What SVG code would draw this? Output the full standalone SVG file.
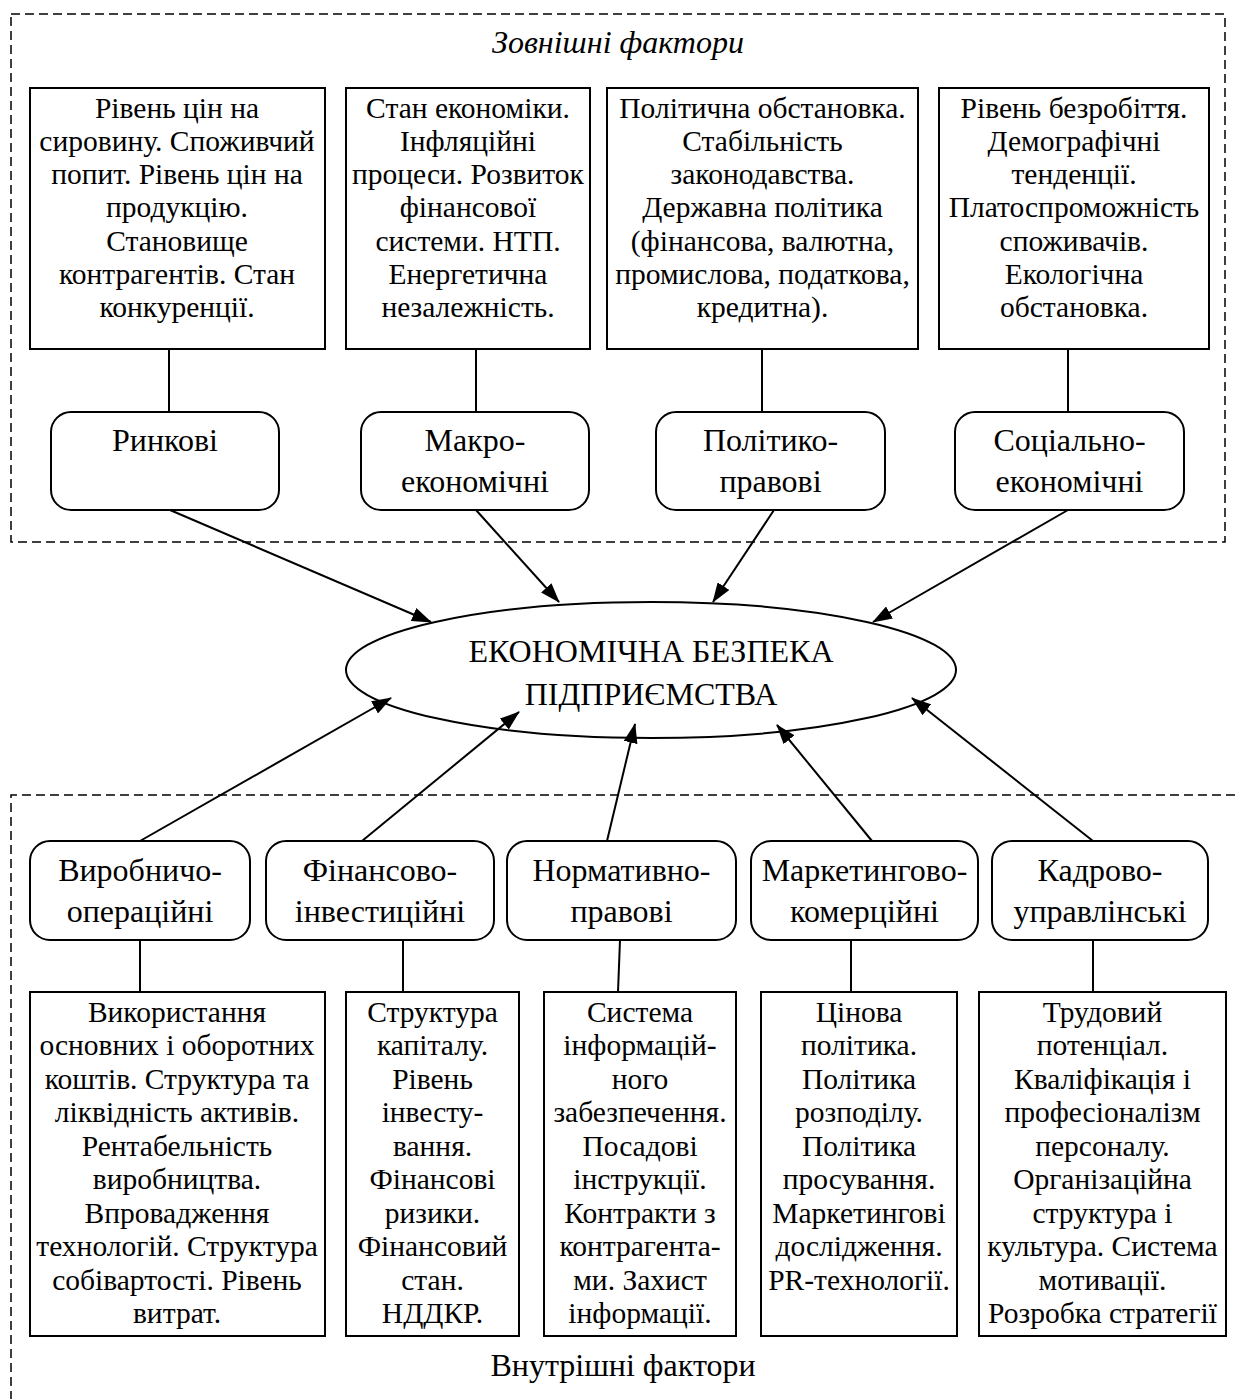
<svg xmlns="http://www.w3.org/2000/svg" width="1235" height="1399" viewBox="0 0 1235 1399">
<style>
text{font-family:"Liberation Serif","Times New Roman",serif;fill:#000;text-anchor:middle}
.body{font-size:29.5px}
.lbl{font-size:32px}
.ttl{font-size:32px}
.box{fill:#fff;stroke:#000;stroke-width:2}
.dash{fill:none;stroke:#000;stroke-width:1.5;stroke-dasharray:9 5}
.ln{stroke:#000;stroke-width:2;fill:none}
</style>
<defs>
<marker id="ah" markerUnits="userSpaceOnUse" markerWidth="20" markerHeight="14" refX="19" refY="7" orient="auto">
<path d="M0,0 L20,7 L0,14 z" fill="#000"/>
</marker>
</defs>
<rect width="1235" height="1399" fill="#fff"/>

<g id="external-frame">
<rect class="dash" x="11" y="14" width="1214" height="528"/>
<text class="ttl" x="618" y="53" font-style="italic">Зовнішні фактори</text>
</g>
<g id="internal-frame">
<path class="dash" d="M1235 795 H11 V1399"/>
<text class="ttl" x="623" y="1376">Внутрішні фактори</text>
</g>

<g id="box-market-details">
<rect class="box" x="30" y="88" width="295" height="261"/>
<text class="body"><tspan x="177" y="117.5">Рівень цін на</tspan><tspan x="177" dy="33.3">сировину. Споживчий</tspan><tspan x="177" dy="33.3">попит. Рівень цін на</tspan><tspan x="177" dy="33.3">продукцію.</tspan><tspan x="177" dy="33.3">Становище</tspan><tspan x="177" dy="33.3">контрагентів. Стан</tspan><tspan x="177" dy="33.3">конкуренції.</tspan></text>
</g>
<g id="box-macro-details">
<rect class="box" x="346" y="88" width="244" height="261"/>
<text class="body"><tspan x="468" y="117.5">Стан економіки.</tspan><tspan x="468" dy="33.3">Інфляційні</tspan><tspan x="468" dy="33.3">процеси. Розвиток</tspan><tspan x="468" dy="33.3">фінансової</tspan><tspan x="468" dy="33.3">системи. НТП.</tspan><tspan x="468" dy="33.3">Енергетична</tspan><tspan x="468" dy="33.3">незалежність.</tspan></text>
</g>
<g id="box-political-details">
<rect class="box" x="607" y="88" width="311" height="261"/>
<text class="body"><tspan x="762.5" y="117.5">Політична обстановка.</tspan><tspan x="762.5" dy="33.3">Стабільність</tspan><tspan x="762.5" dy="33.3">законодавства.</tspan><tspan x="762.5" dy="33.3">Державна політика</tspan><tspan x="762.5" dy="33.3">(фінансова, валютна,</tspan><tspan x="762.5" dy="33.3">промислова, податкова,</tspan><tspan x="762.5" dy="33.3">кредитна).</tspan></text>
</g>
<g id="box-social-details">
<rect class="box" x="939" y="88" width="270" height="261"/>
<text class="body"><tspan x="1074" y="117.5">Рівень безробіття.</tspan><tspan x="1074" dy="33.3">Демографічні</tspan><tspan x="1074" dy="33.3">тенденції.</tspan><tspan x="1074" dy="33.3">Платоспроможність</tspan><tspan x="1074" dy="33.3">споживачів.</tspan><tspan x="1074" dy="33.3">Екологічна</tspan><tspan x="1074" dy="33.3">обстановка.</tspan></text>
</g>

<g id="node-market">
<rect class="box" x="51" y="412" width="228" height="98" rx="20"/>
<text class="lbl" x="165" y="451">Ринкові</text>
</g>
<g id="node-macro">
<rect class="box" x="361" y="412" width="228" height="98" rx="20"/>
<text class="lbl"><tspan x="475" y="451">Макро-</tspan><tspan x="475" y="492">економічні</tspan></text>
</g>
<g id="node-political">
<rect class="box" x="656" y="412" width="229" height="98" rx="20"/>
<text class="lbl"><tspan x="770.5" y="451">Політико-</tspan><tspan x="770.5" y="492">правові</tspan></text>
</g>
<g id="node-social">
<rect class="box" x="955" y="412" width="229" height="98" rx="20"/>
<text class="lbl"><tspan x="1069.5" y="451">Соціально-</tspan><tspan x="1069.5" y="492">економічні</tspan></text>
</g>

<g id="node-center">
<ellipse cx="651" cy="670" rx="305" ry="68" fill="#fff" stroke="#000" stroke-width="2"/>
<text class="lbl"><tspan x="651" y="662">ЕКОНОМІЧНА БЕЗПЕКА</tspan><tspan x="651" y="705">ПІДПРИЄМСТВА</tspan></text>
</g>

<g id="node-production">
<rect class="box" x="30" y="841" width="220" height="99" rx="20"/>
<text class="lbl"><tspan x="140" y="881">Виробничо-</tspan><tspan x="140" y="922">операційні</tspan></text>
</g>
<g id="node-finance">
<rect class="box" x="266" y="841" width="228" height="99" rx="20"/>
<text class="lbl"><tspan x="380" y="881">Фінансово-</tspan><tspan x="380" y="922">інвестиційні</tspan></text>
</g>
<g id="node-normative">
<rect class="box" x="507" y="841" width="229" height="99" rx="20"/>
<text class="lbl"><tspan x="621.5" y="881">Нормативно-</tspan><tspan x="621.5" y="922">правові</tspan></text>
</g>
<g id="node-marketing">
<rect class="box" x="751" y="841" width="227" height="99" rx="20"/>
<text class="lbl"><tspan x="864.5" y="881">Маркетингово-</tspan><tspan x="864.5" y="922">комерційні</tspan></text>
</g>
<g id="node-personnel">
<rect class="box" x="992" y="841" width="216" height="99" rx="20"/>
<text class="lbl"><tspan x="1100" y="881">Кадрово-</tspan><tspan x="1100" y="922">управлінські</tspan></text>
</g>

<g id="box-production-details">
<rect class="box" x="30" y="992" width="295" height="344"/>
<text class="body"><tspan x="177" y="1021.6">Використання</tspan><tspan x="177" dy="33.5">основних і оборотних</tspan><tspan x="177" dy="33.5">коштів. Структура та</tspan><tspan x="177" dy="33.5">ліквідність активів.</tspan><tspan x="177" dy="33.5">Рентабельність</tspan><tspan x="177" dy="33.5">виробництва.</tspan><tspan x="177" dy="33.5">Впровадження</tspan><tspan x="177" dy="33.5">технологій. Структура</tspan><tspan x="177" dy="33.5">собівартості. Рівень</tspan><tspan x="177" dy="33.5">витрат.</tspan></text>
</g>
<g id="box-finance-details">
<rect class="box" x="346" y="992" width="173" height="344"/>
<text class="body"><tspan x="432.5" y="1021.6">Структура</tspan><tspan x="432.5" dy="33.5">капіталу.</tspan><tspan x="432.5" dy="33.5">Рівень</tspan><tspan x="432.5" dy="33.5">інвесту-</tspan><tspan x="432.5" dy="33.5">вання.</tspan><tspan x="432.5" dy="33.5">Фінансові</tspan><tspan x="432.5" dy="33.5">ризики.</tspan><tspan x="432.5" dy="33.5">Фінансовий</tspan><tspan x="432.5" dy="33.5">стан.</tspan><tspan x="432.5" dy="33.5">НДДКР.</tspan></text>
</g>
<g id="box-normative-details">
<rect class="box" x="544" y="992" width="192" height="344"/>
<text class="body"><tspan x="640" y="1021.6">Система</tspan><tspan x="640" dy="33.5">інформацій-</tspan><tspan x="640" dy="33.5">ного</tspan><tspan x="640" dy="33.5">забезпечення.</tspan><tspan x="640" dy="33.5">Посадові</tspan><tspan x="640" dy="33.5">інструкції.</tspan><tspan x="640" dy="33.5">Контракти з</tspan><tspan x="640" dy="33.5">контрагента-</tspan><tspan x="640" dy="33.5">ми. Захист</tspan><tspan x="640" dy="33.5">інформації.</tspan></text>
</g>
<g id="box-marketing-details">
<rect class="box" x="761" y="992" width="196" height="344"/>
<text class="body"><tspan x="859" y="1021.6">Цінова</tspan><tspan x="859" dy="33.5">політика.</tspan><tspan x="859" dy="33.5">Політика</tspan><tspan x="859" dy="33.5">розподілу.</tspan><tspan x="859" dy="33.5">Політика</tspan><tspan x="859" dy="33.5">просування.</tspan><tspan x="859" dy="33.5">Маркетингові</tspan><tspan x="859" dy="33.5">дослідження.</tspan><tspan x="859" dy="33.5">PR-технології.</tspan></text>
</g>
<g id="box-personnel-details">
<rect class="box" x="979" y="992" width="247" height="344"/>
<text class="body"><tspan x="1102.5" y="1021.6">Трудовий</tspan><tspan x="1102.5" dy="33.5">потенціал.</tspan><tspan x="1102.5" dy="33.5">Кваліфікація і</tspan><tspan x="1102.5" dy="33.5">професіоналізм</tspan><tspan x="1102.5" dy="33.5">персоналу.</tspan><tspan x="1102.5" dy="33.5">Організаційна</tspan><tspan x="1102.5" dy="33.5">структура і</tspan><tspan x="1102.5" dy="33.5">культура. Система</tspan><tspan x="1102.5" dy="33.5">мотивації.</tspan><tspan x="1102.5" dy="33.5">Розробка стратегії</tspan></text>
</g>

<g id="connectors">
<line class="ln" x1="169" y1="349" x2="169" y2="412"/>
<line class="ln" x1="476" y1="349" x2="476" y2="412"/>
<line class="ln" x1="762" y1="349" x2="762" y2="412"/>
<line class="ln" x1="1068" y1="349" x2="1068" y2="412"/>
<line class="ln" x1="170" y1="510" x2="431" y2="622" marker-end="url(#ah)"/>
<line class="ln" x1="476" y1="510" x2="559" y2="602" marker-end="url(#ah)"/>
<line class="ln" x1="774" y1="510" x2="713" y2="602" marker-end="url(#ah)"/>
<line class="ln" x1="1068" y1="510" x2="873" y2="622" marker-end="url(#ah)"/>
<line class="ln" x1="140" y1="841" x2="391" y2="698" marker-end="url(#ah)"/>
<line class="ln" x1="362" y1="841" x2="519" y2="712" marker-end="url(#ah)"/>
<line class="ln" x1="607" y1="841" x2="635" y2="724" marker-end="url(#ah)"/>
<line class="ln" x1="872" y1="841" x2="777" y2="725" marker-end="url(#ah)"/>
<line class="ln" x1="1093" y1="841" x2="912" y2="698" marker-end="url(#ah)"/>
<line class="ln" x1="140" y1="940" x2="140" y2="992"/>
<line class="ln" x1="403" y1="940" x2="403" y2="992"/>
<line class="ln" x1="620" y1="940" x2="618" y2="992"/>
<line class="ln" x1="851" y1="940" x2="851" y2="992"/>
<line class="ln" x1="1093" y1="940" x2="1093" y2="992"/>
</g>
</svg>
